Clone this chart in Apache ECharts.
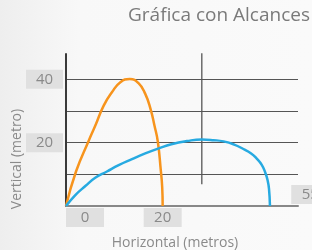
<!DOCTYPE html>
<html>
<head>
<meta charset="utf-8">
<script src="https://cdn.jsdelivr.net/npm/echarts@6/dist/echarts.min.js"></script>
<style>
  html, body { margin: 0; padding: 0; }
  #main { width: 312px; height: 250px; }
</style>
</head>
<body>
<div id="main"></div>
<script>
// trayectorias (metros)
const orangeX = [0, 2.07, 4.7, 6.07, 7.8, 9.5, 11.25, 13.2, 15.0, 16.4, 17.5, 18.3, 19.0, 19.6, 19.9, 20.0];
const orangeY = [0, 10.9, 20.6, 25.4, 31.7, 35.9, 39.1, 40.1, 38.8, 35.4, 30.6, 25.4, 20.3, 11.5, 6.0, 0];

const blueX = [0, 1.93, 4.0, 6.05, 8.47, 10.9, 13.65, 16.4, 19.2, 21.8, 25.0, 28.1, 30.5, 32.6, 34.8, 36.7, 38.3, 39.5, 40.5, 41.2, 41.7, 42.0, 42.2];
const blueY = [0, 3.46, 6.3, 8.9, 10.9, 12.9, 14.8, 16.6, 18.2, 19.5, 20.5, 21.0, 20.8, 20.4, 19.4, 18.0, 16.6, 14.9, 13.0, 10.7, 8.2, 5.4, 0];

// lineas verticales de adorno
const decoX = [28.1, 50.3];
const decoY = [6.9, 54.8];

const xTickValues = [0, 20, 46.6];
const xTickLabels = ['0', '20', '55'];
const yTickValues = [20, 40];

const pairs = (xs, ys) => xs.map((x, i) => [x, ys[i]]);
const decoData = [];
decoX.forEach((x, i) => {
  if (i > 0) decoData.push(['-', '-']);
  decoData.push([x, decoY[0]], [x, decoY[1]]);
});

const boxStyle = {
  backgroundColor: '#e0e0e0',
  color: '#8a8a8a',
  fontSize: 15,
  fontFamily: 'Open Sans',
  width: 38,
  height: 19,
  lineHeight: 19,
  align: 'center'
};

var myChart = echarts.init(document.getElementById('main'));

var option = {
  backgroundColor: {
    type: 'linear', x: 0, y: 0, x2: 1, y2: 0,
    colorStops: [
      { offset: 0, color: '#eeeeee' },
      { offset: 0.25, color: '#f8f8f8' },
      { offset: 1, color: '#fafafa' }
    ]
  },
  title: {
    text: 'Gráfica con Alcances',
    right: 2,
    top: 6,
    padding: 0,
    textStyle: { fontFamily: 'Open Sans', fontSize: 19, fontWeight: 'normal', color: '#7a7a7a' }
  },
  grid: { left: 66, right: 14, top: 54, bottom: 44, containLabel: false, outerBoundsMode: 'none' },
  xAxis: [
    {
      type: 'value', min: 0, max: 48,
      name: 'Horizontal (metros)',
      nameLocation: 'middle',
      nameGap: 30,
      nameMoveOverlap: false,
      nameTextStyle: { fontFamily: 'Open Sans', fontSize: 14, color: '#8a8a8a', padding: [0, 14, 0, 0] },
      axisLine: { lineStyle: { color: '#888', width: 2 } },
      axisTick: { show: false },
      splitLine: { show: false },
      axisLabel: {
        customValues: xTickValues.slice(0, 2),
        margin: 2,
        alignMinLabel: 'left',
        formatter: v => '{b|' + xTickLabels[xTickValues.indexOf(v)] + '}',
        rich: { b: boxStyle }
      }
    },
    {
      type: 'value', min: 0, max: 48, position: 'bottom',
      axisLine: { show: false },
      axisTick: { show: false },
      splitLine: { show: false },
      axisLabel: {
        inside: true,
        customValues: xTickValues.slice(2),
        margin: 2,
        alignMinLabel: 'left',
        alignMaxLabel: 'left',
        formatter: v => '{b|' + xTickLabels[xTickValues.indexOf(v)] + '}',
        rich: { b: boxStyle }
      }
    }
  ],
  yAxis: {
    type: 'value', min: 0, max: 48, interval: 10,
    name: 'Vertical (metro)',
    nameLocation: 'middle',
    nameGap: 42,
    nameMoveOverlap: false,
    nameTextStyle: { fontFamily: 'Open Sans', fontSize: 14, color: '#8a8a8a', padding: [0, 58, 0, 0] },
    axisLine: { show: true, lineStyle: { color: '#3a3a3a', width: 2 } },
    axisTick: { show: false },
    splitLine: { show: true, showMinLine: false, showMaxLine: false, lineStyle: { color: '#555', width: 1 } },
    axisLabel: {
      customValues: yTickValues,
      margin: 3,
      formatter: v => '{b|' + v + '}',
      rich: { b: Object.assign({}, boxStyle, { width: 37 }) }
    }
  },
  series: [
    {
      name: 'adorno',
      type: 'line',
      data: decoData,
      symbol: 'none',
      silent: true,
      clip: false,
      connectNulls: false,
      lineStyle: { color: '#555', width: 1.3 },
      z: 1
    },
    {
      name: 'naranja',
      type: 'line',
      data: pairs(orangeX, orangeY),
      smooth: 0.5,
      symbol: 'none',
      lineStyle: { color: '#f7941d', width: 2.5 },
      z: 3
    },
    {
      name: 'azul',
      type: 'line',
      data: pairs(blueX, blueY),
      smooth: 0.5,
      symbol: 'none',
      lineStyle: { color: '#27aae1', width: 2.5 },
      z: 3
    }
  ]
};

myChart.setOption(option);
</script>
</body>
</html>
